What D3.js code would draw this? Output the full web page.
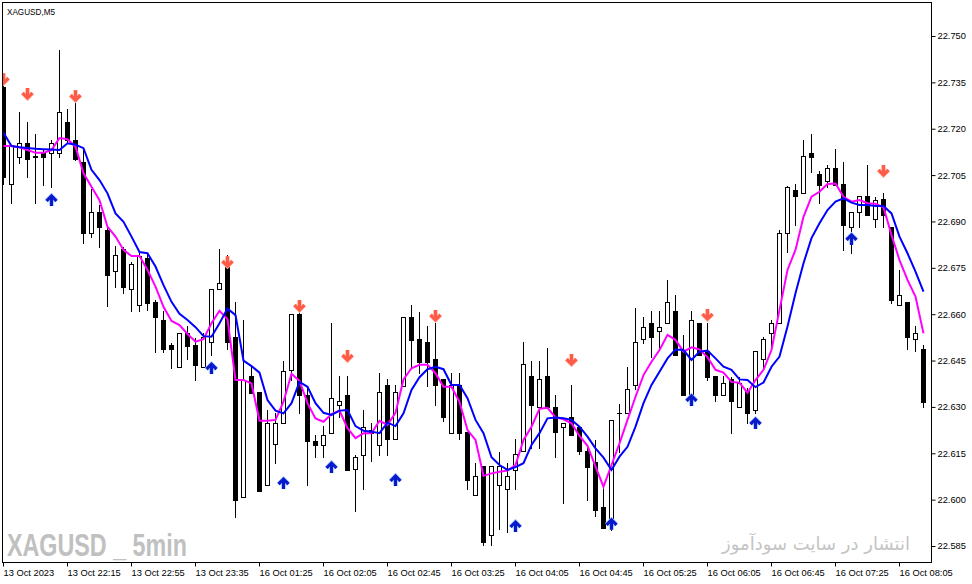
<!DOCTYPE html>
<html>
<head>
<meta charset="utf-8">
<script src="https://cdn.jsdelivr.net/npm/d3@7"></script>
<style>
  body { margin: 0; background: #fff; }
  svg { display: block; }
</style>
</head>
<body>
<svg id="chart" width="972" height="584"></svg>
<script>
// XAGUSD M5 bars, oldest first
const opens = [22.7335,22.7021,22.7110,22.7153,22.7113,22.7121,22.7121,22.7121,22.7222,22.7164,
  22.7092,22.6862,22.6931,22.6872,22.6739,22.6810,22.6681,22.6631,22.6782,22.6639,
  22.6581,22.6499,22.6428,22.6538,22.6499,22.6428,22.6510,22.6681,22.6754,22.6527,
  22.6008,22.6400,22.6348,22.6047,22.6180,22.6247,22.6420,22.6601,22.6339,22.6189,
  22.6178,22.6217,22.6307,22.6338,22.6098,22.6146,22.6225,22.6178,22.6370,22.6197,
  22.6368,22.6590,22.6519,22.6510,22.6456,22.6389,22.6217,22.6370,22.6219,22.6016,
  22.6109,22.5885,22.6047,22.6036,22.6096,22.6156,22.6400,22.6299,22.6400,22.6299,
  22.6236,22.6266,22.6236,22.6156,22.6122,22.5977,22.5918,22.6279,22.6279,22.6370,
  22.6519,22.6573,22.6547,22.6571,22.6609,22.6480,22.6338,22.6573,22.6480,22.6400,
  22.6338,22.6389,22.6299,22.6351,22.6290,22.6456,22.6538,22.6571,22.6862,22.7002,
  22.6991,22.7122,22.7054,22.7030,22.7073,22.7021,22.6881,22.6931,22.6982,22.6909,
  22.6972,22.6883,22.6629,22.6639,22.6519,22.6488];
const highs = [22.7341,22.7147,22.7254,22.7222,22.7183,22.7131,22.7164,22.7455,22.7263,22.7284,
  22.7131,22.7006,22.6952,22.6885,22.6821,22.6817,22.6769,22.6797,22.6797,22.6646,
  22.6611,22.6507,22.6538,22.6562,22.6523,22.6539,22.6681,22.6810,22.6792,22.6639,
  22.6581,22.6430,22.6348,22.6290,22.6279,22.6448,22.6601,22.6646,22.6361,22.6208,
  22.6238,22.6573,22.6400,22.6400,22.6145,22.6290,22.6247,22.6411,22.6389,22.6370,
  22.6590,22.6631,22.6607,22.6562,22.6573,22.6389,22.6409,22.6409,22.6219,22.6118,
  22.6109,22.6109,22.6154,22.6118,22.6197,22.6510,22.6450,22.6450,22.6491,22.6338,
  22.6247,22.6370,22.6236,22.6167,22.6193,22.6047,22.6258,22.6310,22.6428,22.6620,
  22.6592,22.6609,22.6609,22.6711,22.6663,22.6532,22.6609,22.6573,22.6573,22.6400,
  22.6400,22.6397,22.6398,22.6361,22.6480,22.6526,22.6581,22.6872,22.7016,22.7021,
  22.7164,22.7183,22.7064,22.7082,22.7133,22.7092,22.6931,22.6982,22.7082,22.6978,
  22.6991,22.6883,22.6743,22.6639,22.6562,22.6499];
const lows = [22.7021,22.6961,22.7090,22.7044,22.6961,22.7019,22.7011,22.7110,22.7153,22.7099,
  22.6829,22.6851,22.6818,22.6627,22.6689,22.6670,22.6609,22.6609,22.6614,22.6479,
  22.6479,22.6426,22.6428,22.6456,22.6387,22.6428,22.6469,22.6681,22.6488,22.5945,
  22.6008,22.6346,22.6027,22.6047,22.6118,22.6247,22.6387,22.6279,22.6047,22.6137,
  22.6137,22.6217,22.6266,22.6096,22.5964,22.6036,22.6126,22.6146,22.6146,22.6197,
  22.6368,22.6430,22.6409,22.6368,22.6307,22.6255,22.6217,22.6197,22.6034,22.6016,
  22.5854,22.5854,22.5906,22.5895,22.6036,22.6156,22.6167,22.6167,22.6299,22.6137,
  22.5988,22.6208,22.6148,22.5999,22.5947,22.5907,22.5902,22.6155,22.6279,22.6357,
  22.6508,22.6461,22.6488,22.6571,22.6469,22.6338,22.6338,22.6469,22.6387,22.6318,
  22.6338,22.6217,22.6299,22.6247,22.6279,22.6430,22.6484,22.6571,22.6801,22.6890,
  22.6991,22.7060,22.6961,22.7012,22.7019,22.6808,22.6799,22.6881,22.6920,22.6881,
  22.6881,22.6637,22.6629,22.6488,22.6480,22.6299];
const closes = [22.7044,22.7144,22.7153,22.7101,22.7110,22.7110,22.7153,22.7254,22.7164,22.7101,
  22.6862,22.6931,22.6881,22.6728,22.6791,22.6689,22.6762,22.6788,22.6637,22.6590,
  22.6488,22.6488,22.6538,22.6497,22.6437,22.6527,22.6681,22.6700,22.6510,22.5999,
  22.6387,22.6346,22.6027,22.6247,22.6247,22.6417,22.6601,22.6338,22.6189,22.6178,
  22.6208,22.6329,22.6318,22.6096,22.6137,22.6236,22.6217,22.6348,22.6197,22.6348,
  22.6590,22.6517,22.6445,22.6445,22.6370,22.6266,22.6370,22.6217,22.6064,22.6077,
  22.5863,22.6109,22.6109,22.6077,22.6148,22.6439,22.6307,22.6389,22.6299,22.6219,
  22.6247,22.6208,22.6156,22.6107,22.5967,22.5907,22.6258,22.6279,22.6357,22.6510,
  22.6560,22.6527,22.6560,22.6639,22.6469,22.6338,22.6581,22.6469,22.6398,22.6338,
  22.6378,22.6318,22.6378,22.6279,22.6480,22.6519,22.6571,22.6862,22.7011,22.6982,
  22.7112,22.7110,22.7019,22.7073,22.7019,22.6890,22.6931,22.6982,22.6920,22.6969,
  22.6920,22.6646,22.6661,22.6527,22.6538,22.6316];

// indicator lines (fast = magenta, slow = blue)
const fastMa = [22.7144,22.7144,22.7140,22.7131,22.7122,22.7122,22.7131,22.7170,22.7166,22.7142,
  22.7056,22.7012,22.6969,22.6883,22.6851,22.6808,22.6788,22.6788,22.6743,22.6689,
  22.6624,22.6578,22.6565,22.6536,22.6511,22.6519,22.6571,22.6611,22.6584,22.6387,
  22.6387,22.6376,22.6255,22.6255,22.6258,22.6317,22.6407,22.6384,22.6312,22.6263,
  22.6252,22.6277,22.6288,22.6231,22.6199,22.6215,22.6215,22.6255,22.6242,22.6281,
  22.6389,22.6425,22.6436,22.6436,22.6409,22.6365,22.6365,22.6316,22.6225,22.6193,
  22.6077,22.6085,22.6090,22.6094,22.6112,22.6193,22.6236,22.6294,22.6297,22.6266,
  22.6260,22.6247,22.6206,22.6174,22.6107,22.6042,22.6112,22.6182,22.6258,22.6333,
  22.6403,22.6446,22.6484,22.6533,22.6517,22.6479,22.6493,22.6486,22.6461,22.6420,
  22.6411,22.6381,22.6378,22.6346,22.6387,22.6420,22.6484,22.6614,22.6743,22.6808,
  22.6915,22.6980,22.6996,22.7021,22.7023,22.6980,22.6964,22.6969,22.6959,22.6957,
  22.6946,22.6856,22.6775,22.6711,22.6657,22.6538];
const slowMa = [22.7187,22.7144,22.7140,22.7138,22.7135,22.7134,22.7133,22.7131,22.7153,22.7148,
  22.7137,22.7067,22.7034,22.6991,22.6926,22.6899,22.6851,22.6801,22.6797,22.6754,
  22.6694,22.6640,22.6601,22.6581,22.6558,22.6529,22.6527,22.6571,22.6618,22.6597,
  22.6450,22.6432,22.6411,22.6322,22.6288,22.6279,22.6312,22.6381,22.6365,22.6312,
  22.6281,22.6274,22.6288,22.6290,22.6238,22.6223,22.6220,22.6215,22.6249,22.6238,
  22.6279,22.6355,22.6396,22.6422,22.6430,22.6422,22.6371,22.6371,22.6328,22.6258,
  22.6215,22.6137,22.6112,22.6096,22.6105,22.6118,22.6177,22.6215,22.6263,22.6266,
  22.6263,22.6258,22.6236,22.6204,22.6166,22.6136,22.6096,22.6139,22.6171,22.6236,
  22.6312,22.6371,22.6414,22.6457,22.6486,22.6484,22.6452,22.6479,22.6482,22.6457,
  22.6430,22.6420,22.6389,22.6387,22.6364,22.6379,22.6430,22.6463,22.6560,22.6668,
  22.6765,22.6846,22.6894,22.6937,22.6964,22.6975,22.6961,22.6953,22.6953,22.6950,
  22.6950,22.6926,22.6851,22.6797,22.6738,22.6673];

// signal arrows: bar index and the price at the arrow tip
const sellBars = [0, 3, 9, 28, 37, 43, 54, 71, 88, 110];
const sellPrices = [22.7341,22.7293,22.7286,22.6749,22.6607,22.6445,22.6575,22.6432,22.6578,22.7044];
const buyBars = [6, 26, 35, 41, 49, 64, 76, 86, 94, 106];
const buyPrices = [22.6989,22.6445,22.6073,22.6125,22.6083,22.5934,22.5941,22.6342,22.6267,22.6863];

const priceTicks = [22.750,22.735,22.720,22.705,22.690,22.675,22.660,22.645,22.630,22.615,22.600,22.585];
const timeTickBars = [0, 8, 16, 24, 32, 40, 48, 56, 64, 72, 80, 88, 96, 104, 112];
const timeLabels = ["13 Oct 2023","13 Oct 22:15","13 Oct 22:55","13 Oct 23:35","16 Oct 01:25",
  "16 Oct 02:05","16 Oct 02:45","16 Oct 03:25","16 Oct 04:05","16 Oct 04:45","16 Oct 05:25",
  "16 Oct 06:05","16 Oct 06:45","16 Oct 07:25","16 Oct 08:05"];

const font = "'Liberation Sans', Tahoma, sans-serif";
const svg = d3.select("#chart");

const x = d3.scaleLinear().domain([0, opens.length - 1]).range([3, 923]);
const y = d3.scaleLinear().domain([22.585, 22.750]).range([546, 36]);

svg.append("defs").append("clipPath").attr("id", "plot")
  .append("rect").attr("x", 3).attr("y", 3).attr("width", 928).attr("height", 559);

// watermarks first, everything else sits on top
svg.append("text")
  .attr("x", 7).attr("y", 556)
  .attr("font-family", font).attr("font-weight", "bold").attr("font-size", 32)
  .attr("fill", "#c0c0c0")
  .attr("textLength", 180).attr("lengthAdjust", "spacingAndGlyphs")
  .text("XAGUSD _ 5min");

svg.append("text")
  .attr("x", 816).attr("y", 550)
  .attr("text-anchor", "middle")
  .attr("font-family", "'DejaVu Sans', sans-serif").attr("font-size", 18)
  .attr("fill", "#c4c4c4")
  .text("انتشار در سایت سودآموز");

const plot = svg.append("g").attr("clip-path", "url(#plot)");

let bars = opens.map((o, i) => ({ i: i, o: o, h: highs[i], l: lows[i], c: closes[i] }));

// wicks
plot.selectAll("line.wick").data(bars).enter().append("line")
  .attr("class", "wick")
  .attr("x1", d => x(d.i) + 0.5).attr("x2", d => x(d.i) + 0.5)
  .attr("y1", d => Math.round(y(d.h))).attr("y2", d => Math.round(y(d.l)) + 1)
  .attr("stroke", "#000").attr("stroke-width", 1);

// bodies: black for down bars, white outlined for up bars
plot.selectAll("rect.body").data(bars).enter().append("rect")
  .attr("class", "body")
  .each(function(d) {
    let top = Math.round(y(Math.max(d.o, d.c)));
    let bot = Math.round(y(Math.min(d.o, d.c)));
    let r = d3.select(this);
    if (d.c > d.o) {
      r.attr("x", x(d.i) - 1.5).attr("y", top + 0.5)
        .attr("width", 4).attr("height", Math.max(bot - top, 1))
        .attr("fill", "#fff").attr("stroke", "#000").attr("stroke-width", 1);
    } else {
      r.attr("x", x(d.i) - 2).attr("y", top)
        .attr("width", 5).attr("height", Math.max(bot - top + 1, 1))
        .attr("fill", "#000");
    }
  });

let line = d3.line()
  .x((d, i) => x(i) + 0.5)
  .y(d => y(d));

plot.append("path").datum(fastMa)
  .attr("d", line).attr("fill", "none")
  .attr("stroke", "#ff00ff").attr("stroke-width", 2);

plot.append("path").datum(slowMa)
  .attr("d", line).attr("fill", "none")
  .attr("stroke", "#0000ff").attr("stroke-width", 2);

// arrows
const downArrow = (cx, ty) =>
  `M${cx},${ty - 12}V${ty - 2}M${cx - 5},${ty - 7}L${cx},${ty - 2}L${cx + 5},${ty - 7}`;
const upArrow = (cx, ty) =>
  `M${cx},${ty + 12}V${ty + 2}M${cx - 5},${ty + 7}L${cx},${ty + 2}L${cx + 5},${ty + 7}`;

function drawArrows(idx, prices, shape, halo, core) {
  [[halo, 4.5], [core, 3]].forEach(s => {
    plot.selectAll(null).data(idx).enter().append("path")
      .attr("d", (d, k) => shape(x(d) + 0.5, y(prices[k])))
      .attr("fill", "none")
      .attr("stroke", s[0]).attr("stroke-width", s[1])
      .attr("stroke-linejoin", "miter");
  });
}
drawArrows(sellBars, sellPrices, downArrow, "#ffb4a6", "#ff5a46");
drawArrows(buyBars, buyPrices, upArrow, "#9cc4ff", "#0a18cc");

// frame
svg.append("rect")
  .attr("x", 2.5).attr("y", 2.5).attr("width", 929).attr("height", 560)
  .attr("fill", "none").attr("stroke", "#000");

// price axis on the right
svg.append("g")
  .attr("transform", "translate(931.5,0)")
  .call(d3.axisRight(y).tickValues(priceTicks).tickSize(4).tickPadding(2)
    .tickFormat(d3.format(".3f")))
  .call(g => g.select(".domain").remove())
  .attr("font-family", font).attr("font-size", 9.3)
  .call(g => g.selectAll("text").attr("fill", "#000"));

// time axis
svg.append("g")
  .attr("transform", "translate(0,562.5)")
  .call(d3.axisBottom(x).tickValues(timeTickBars).tickSize(4).tickPadding(3)
    .tickFormat((d, k) => timeLabels[k]))
  .call(g => g.select(".domain").remove())
  .attr("font-family", font).attr("font-size", 9.3)
  .call(g => g.selectAll("text").attr("text-anchor", "start").attr("x", 0).attr("fill", "#000"));

// symbol caption
svg.append("text")
  .attr("x", 7).attr("y", 15)
  .attr("font-family", font).attr("font-size", 9.3)
  .attr("textLength", 48).attr("lengthAdjust", "spacingAndGlyphs")
  .text("XAGUSD,M5");
</script>
</body>
</html>
